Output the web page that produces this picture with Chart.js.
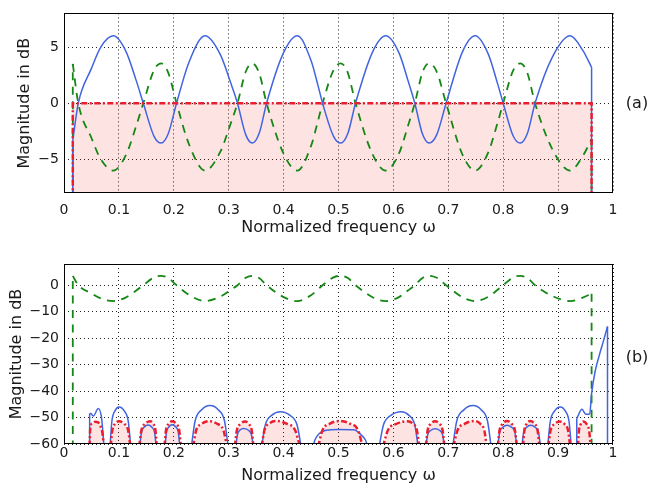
<!DOCTYPE html>
<html><head><meta charset="utf-8">
<script src="https://cdn.jsdelivr.net/npm/chart.js@4.4.1/dist/chart.umd.min.js"></script>
<style>
html,body{margin:0;padding:0;background:#fff;overflow:hidden;width:650px;height:484px}
canvas{position:absolute;left:0}
</style></head>
<body>
<canvas id="ca" width="650" height="242" style="top:0;width:650px;height:242px"></canvas>
<canvas id="cb" width="650" height="242" style="top:242px;width:650px;height:242px"></canvas>
<script>
// ---------- tick labels ----------
const xTicks = [0,0.1,0.2,0.3,0.4,0.5,0.6,0.7,0.8,0.9,1];
const xTickLabels = ['0','0.1','0.2','0.3','0.4','0.5','0.6','0.7','0.8','0.9','1'];
const yTicksA = [-5,0,5];
const yTickLabelsA = ['\u22125','0','5'];
const yTicksB = [-60,-50,-40,-30,-20,-10,0];
const yTickLabelsB = ['\u221260','\u221250','\u221240','\u221230','\u221220','\u221210','0'];
const xTitle = 'Normalized frequency \u03c9';
const yTitle = 'Magnitude in dB';
const panelTags = ['(a)','(b)'];

// ---------- panel (a) curves (green also shown in (b)) ----------
const freqA = [0.016,0.026,0.05,0.067,0.09,0.113,0.131,0.1445,0.164,0.177,0.19,0.205,0.228,0.257,0.285,0.303,0.316,0.331,0.343,0.356,0.369,0.40,0.425,0.45,0.462,0.471,0.491,0.504,0.517,0.531,0.562,0.586,0.61,0.627,0.639,0.653,0.665,0.679,0.696,0.726,0.749,0.773,0.79,0.8,0.818,0.831,0.844,0.858,0.89,0.922,0.945,0.961];
const blueA = [-3.3,0,3.1,5.0,6.0,4.6,2.1,0,-2.95,-3.55,-2.7,0,3.7,6.0,4.3,1.9,0,-2.8,-3.55,-2.6,0,4.5,6.0,3.8,1.7,0,-2.95,-3.55,-2.7,0,4.55,6.0,4.5,1.95,0,-2.75,-3.55,-2.8,0,4.6,6.0,4.35,1.7,0,-2.9,-3.55,-2.7,0,4.15,6.0,4.7,3.2];
const greenA = [3.5,0,-3.1,-5.0,-6.0,-4.6,-2.1,0,2.95,3.55,2.7,0,-3.7,-6.0,-4.3,-1.9,0,2.8,3.55,2.6,0,-4.5,-6.0,-3.8,-1.7,0,2.95,3.55,2.7,0,-4.55,-6.0,-4.5,-1.95,0,2.75,3.55,2.8,0,-4.6,-6.0,-4.35,-1.7,0,2.9,3.55,2.7,0,-4.15,-6.0,-4.7,-3.2];
// band edges: vertical drops to -infinity dB (drawn below the axis)
const freqEdge = [0.016,0.016,0.5,0.961,0.961];
const blueEdgeA = [-100,-3.3,null,3.2,-100];
const greenEdge = [-100,3.5,null,-3.2,-100];
const freqRedA = [0.016,0.016,0.961,0.961];
const redA = [-100,0,0,-100];

// ---------- panel (b) ----------
const freqBlueB = [
 0.0467,0.0486,0.0534,0.0625,0.0686,0.0729,0.078,
 0.0838,0.0871,0.0928,0.1002,0.1098,0.1172,0.1215,0.13,
 0.138,0.141,0.1463,0.153,0.1598,0.165,0.168,0.176,
 0.184,0.1866,0.1912,0.197,0.2033,0.2082,0.211,0.22,
 0.232,0.2388,0.2507,0.266,0.2809,0.2924,0.299,0.306,
 0.313,0.3158,0.3207,0.327,0.3351,0.3414,0.345,0.352,
 0.36,0.3668,0.3787,0.394,0.4111,0.4244,0.432,0.443,
 0.4535,0.457,0.465,0.478,0.5,0.528,0.541,0.549,0.5535,0.563,
 0.574,0.582,0.596,0.614,0.628,0.6388,0.645,0.652,
 0.659,0.6624,0.6684,0.676,0.6837,0.6896,0.693,0.7,
 0.708,0.7154,0.7284,0.745,0.7599,0.7714,0.778,0.784,
 0.79,0.7934,0.7994,0.807,0.8151,0.8214,0.825,0.83,
 0.834,0.8372,0.8428,0.85,0.8581,0.8644,0.868,0.875,
 0.881,0.8856,0.8937,0.904,0.913,0.92,0.924,0.929,
 0.934,0.9435,0.9505,0.9575,0.961,0.967,0.975,0.982,0.99];
const blueB = [
 -48.5,-48.5,-49.4,-46.6,-50.4,-61,null,
 -61,-51.6,-47.5,-46.0,-47.5,-51.6,-61,null,
 -61,-55.7,-53.6,-52.8,-53.6,-55.7,-61,null,
 -61,-55.6,-53.5,-52.7,-53.5,-55.6,-61,null,
 -61,-51.3,-47.1,-45.5,-47.1,-51.3,-61,null,
 -61,-56.5,-54.7,-54.1,-54.7,-56.5,-61,null,
 -61,-52.7,-49.1,-47.8,-49.1,-52.7,-61,null,
 -61,-58.5,-56,-54.8,-54.5,-54.6,-56.5,-58.5,-61,null,
 -61,-52.7,-49.1,-47.8,-49.1,-52.7,-61,null,
 -61,-56.5,-54.8,-54.2,-54.8,-56.5,-61,null,
 -61,-51.3,-47.1,-45.5,-47.1,-51.3,-61,null,
 -61,-55.7,-53.7,-52.9,-53.7,-55.7,-61,null,
 -61,-55.7,-53.7,-52.9,-53.7,-55.7,-61,null,
 -61,-51.6,-47.5,-46.0,-47.5,-51.6,-61,null,
 -50.4,-46.9,-48.8,-48.7,-41,-33,-26.5,-21.5,-15.6];
const freqBlueEdgeB = [0.0467,0.0467,0.5,0.934,0.934,0.96,0.99,0.99];
const blueEdgeB = [-100,-48.5,null,-100,-50.4,null,-15.6,-100];
const freqRedB = [
 0.0465,0.048,0.052,0.057,0.062,0.067,0.0705,0.0725,0.079,
 0.085,0.088,0.0933,0.1,0.1095,0.1168,0.121,0.129,
 0.137,0.141,0.148,0.157,0.1624,0.1666,0.169,0.176,
 0.183,0.1858,0.1907,0.197,0.2042,0.2098,0.213,0.224,
 0.235,0.2408,0.251,0.264,0.2789,0.2904,0.297,0.304,
 0.311,0.3148,0.3215,0.33,0.3368,0.342,0.345,0.352,
 0.36,0.365,0.3738,0.385,0.4053,0.421,0.43,0.446,
 0.463,0.4708,0.4845,0.502,0.5209,0.5356,0.544,0.562,
 0.581,0.59,0.6058,0.626,0.6355,0.6428,0.647,0.653,
 0.659,0.6624,0.6684,0.676,0.6837,0.6896,0.693,0.7,
 0.709,0.7168,0.7305,0.748,0.7579,0.7656,0.77,0.78,
 0.79,0.7934,0.7994,0.807,0.8151,0.8214,0.825,0.83,
 0.836,0.8386,0.8432,0.849,0.8567,0.8626,0.866,0.874,
 0.882,0.8862,0.8936,0.903,0.9116,0.9182,0.922,0.929,
 0.936,0.938,0.9415,0.946,0.952,0.9565,0.9595];
const redB = [
 -61,-53.5,-52.2,-51.6,-51.8,-53.5,-56.5,-61,null,
 -61,-54.8,-52.35,-51.4,-52.35,-54.8,-61,null,
 -61,-54.8,-52.35,-51.4,-52.35,-54.8,-61,null,
 -61,-54.8,-52.35,-51.4,-52.35,-54.8,-61,null,
 -61,-54.8,-52.35,-51.4,-52.35,-54.8,-61,null,
 -61,-54.9,-52.45,-51.5,-52.45,-54.9,-61,null,
 -61,-54.8,-52.3,-51.3,-52.3,-54.8,-61,null,
 -61,-54.8,-52.3,-51.3,-52.3,-54.8,-61,null,
 -61,-54.8,-52.35,-51.4,-52.35,-54.8,-61,null,
 -61,-54.8,-52.35,-51.4,-52.35,-54.8,-61,null,
 -61,-54.8,-52.3,-51.3,-52.3,-54.8,-61,null,
 -61,-54.8,-52.3,-51.3,-52.3,-54.8,-61,null,
 -61,-54.8,-52.3,-51.3,-52.3,-54.8,-61,null,
 -61,-54.9,-52.45,-51.5,-52.45,-54.9,-61,null,
 -61,-54.9,-52.45,-51.5,-52.45,-54.9,-61];

// ---------- styling ----------
const FONT = "'DejaVu Sans', sans-serif";
const TXT = '#1a1a1a';
const BLUE = 'rgb(65,100,225)';
const GREEN = 'rgb(20,135,20)';
const RED = 'rgb(235,30,45)';
const PINK = 'rgba(245,40,40,0.13)';
const DASH_GREEN = [8, 6.5];
const DASH_RED = [6, 2.5, 2, 2.5];

const pts = (xs, ys) => xs.map((x, i) => ({x: x, y: ys[i]}));

const framePlugin = {
  id: 'frame',
  afterDraw(chart) {
    const {ctx, chartArea: a} = chart;
    ctx.save();
    ctx.strokeStyle = '#000';
    ctx.lineWidth = 1;
    ctx.strokeRect(Math.round(a.left) + 0.5, Math.round(a.top) + 0.5,
                   Math.round(a.right) - Math.round(a.left) - 1, Math.round(a.bottom) - Math.round(a.top) - 1);
    const tag = chart.options.plugins.frame.tag;
    ctx.fillStyle = TXT;
    ctx.font = '16px ' + FONT;
    ctx.textAlign = 'center';
    ctx.textBaseline = 'middle';
    ctx.fillText(tag.text, tag.x, tag.y);
    ctx.restore();
  }
};

function lineDs(data, color, width, dash, extra) {
  return Object.assign({
    data: data, borderColor: color, borderWidth: width, borderDash: dash,
    pointRadius: 0, fill: false, cubicInterpolationMode: 'monotone',
    spanGaps: false
  }, extra || {});
}
const straight = {cubicInterpolationMode: 'default', tension: 0};

function makeChart(id, cfg) {
  return new Chart(document.getElementById(id), {
    type: 'line',
    data: {datasets: cfg.datasets},
    plugins: [framePlugin],
    options: {
      responsive: false, animation: false, devicePixelRatio: 1,
      layout: {padding: {left: cfg.padLeft, right: 37, top: cfg.padTop, bottom: cfg.padBottom}},
      plugins: {
        legend: {display: false}, tooltip: {enabled: false},
        filler: {drawTime: 'beforeDatasetsDraw'},
        frame: {tag: cfg.tag}
      },
      scales: {
        x: {
          type: 'linear', min: 0, max: 1,
          afterBuildTicks: ax => { ax.ticks = xTicks.map(v => ({value: v})); },
          afterFit: s => { s.height = cfg.xAxisH; },
          ticks: {autoSkip: false, maxRotation: 0, padding: cfg.xTickPad, color: TXT,
                  font: {family: FONT, size: 14}, callback: (v, i) => xTickLabels[i]},
          grid: {drawTicks: false, color: '#222', lineWidth: 1},
          border: {display: false, dash: [1, 3]},
          title: {display: true, text: xTitle, color: TXT, padding: 0,
                  font: {family: FONT, size: 16, lineHeight: 1}}
        },
        y: {
          type: 'linear', min: cfg.yMin, max: cfg.yMax,
          afterBuildTicks: ax => { ax.ticks = cfg.yTicks.map(v => ({value: v})); },
          afterFit: s => { s.width = cfg.yAxisW; },
          ticks: {autoSkip: false, padding: 5, color: TXT,
                  font: {family: FONT, size: 14}, callback: (v, i) => cfg.yLabels[i]},
          grid: {drawTicks: false, color: '#222', lineWidth: 1},
          border: {display: false, dash: [1, 3]},
          title: {display: true, text: yTitle, color: TXT, padding: 0,
                  font: {family: FONT, size: 16, lineHeight: 1}}
        }
      }
    }
  });
}

// Panel (a): chart area 64..613 x 13..193
makeChart('ca', {
  padLeft: 17, padTop: 13, padBottom: 6, yAxisW: 47, xAxisH: 43, xTickPad: 9,
  yMin: -8, yMax: 8, yTicks: yTicksA, yLabels: yTickLabelsA,
  tag: {text: panelTags[0], x: 637, y: 104},
  datasets: [
    lineDs(pts(freqRedA, redA), RED, 2.5, DASH_RED,
           Object.assign({fill: 'start', backgroundColor: PINK}, straight)),
    lineDs(pts(freqA, blueA), BLUE, 1.5, []),
    lineDs(pts(freqEdge, blueEdgeA), BLUE, 1.5, [], straight),
    lineDs(pts(freqA, greenA), GREEN, 1.8, DASH_GREEN),
    lineDs(pts(freqEdge, greenEdge), GREEN, 1.8, DASH_GREEN, straight)
  ]
});

// Panel (b): chart area 64..613 x 264..444 (canvas offset 242)
makeChart('cb', {
  padLeft: 9, padTop: 22, padBottom: 0, yAxisW: 55, xAxisH: 40, xTickPad: 1,
  yMin: -60, yMax: 8, yTicks: yTicksB, yLabels: yTickLabelsB,
  tag: {text: panelTags[1], x: 637, y: 116},
  datasets: [
    lineDs(pts(freqRedB, redB), RED, 2.5, DASH_RED, {fill: 'start', backgroundColor: PINK}),
    lineDs(pts(freqBlueB, blueB), BLUE, 1.5, []),
    lineDs(pts(freqBlueEdgeB, blueEdgeB), BLUE, 1.5, [], straight),
    lineDs(pts(freqA, greenA), GREEN, 1.8, DASH_GREEN),
    lineDs(pts(freqEdge, greenEdge), GREEN, 1.8, DASH_GREEN, straight)
  ]
});
</script>
</body></html>
